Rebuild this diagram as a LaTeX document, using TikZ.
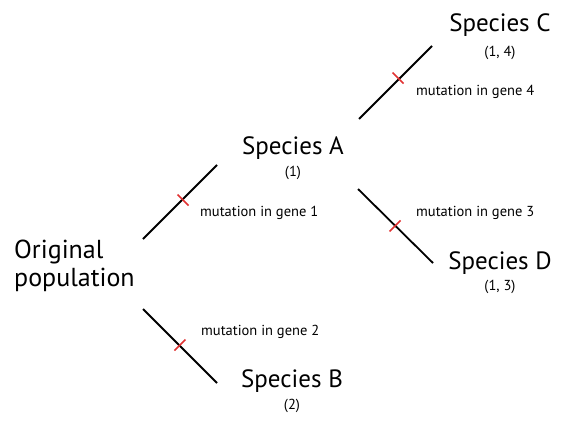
\documentclass[tikz,border=0pt]{standalone}
\usepackage{fontspec}
\setmainfont{PT Sans}
\definecolor{tickred}{RGB}{225,50,50}
\tikzset{
  branch/.style={line width=1.8pt, black},
  mut/.style={line width=1.6pt, tickred},
  species/.style={font=\fontsize{25}{27}\selectfont, inner sep=0pt, anchor=center},
  genes/.style={font=\fontsize{14.5}{16}\selectfont, inner sep=0pt, anchor=center},
  mutlabel/.style={font=\fontsize{14.5}{16}\selectfont, inner sep=0pt, anchor=west},
}
\begin{document}
\begin{tikzpicture}[x=1pt,y=-1pt]
\useasboundingbox (0,0) rectangle (570,423);
% texts
\node[species, anchor=west, align=left, font=\fontsize{26}{28}\selectfont] (orig) at (14,266) {Original\\population};
\node[species] (spA) at (293,148) {Species A};
\node[genes] (gA) at (293,173) {(1)};
\node[species] (spB) at (292,381) {Species B};
\node[genes] (gB) at (292,406) {(2)};
\node[species] (spC) at (500,25) {Species C};
\node[genes] (gC) at (500,53) {(1, 4)};
\node[species] (spD) at (500,263) {Species D};
\node[genes] (gD) at (500,287) {(1, 3)};
\node[mutlabel] (m1) at (200,213) {mutation in gene 1};
\node[mutlabel] (m2) at (201,332) {mutation in gene 2};
\node[mutlabel] (m3) at (416,213) {mutation in gene 3};
\node[mutlabel] (m4) at (416,92) {mutation in gene 4};
% branch endpoints
\coordinate (oA1) at (143,239); \coordinate (oA2) at (217,165);
\coordinate (oB1) at (143,309); \coordinate (oB2) at (217,383);
\coordinate (aC1) at (359,119); \coordinate (aC2) at (432,46);
\coordinate (aD1) at (358,189); \coordinate (aD2) at (433,263);
\draw[branch] (oA1) -- (oA2);
\draw[branch] (oB1) -- (oB2);
\draw[branch] (aC1) -- (aC2);
\draw[branch] (aD1) -- (aD2);
% mutation ticks
\coordinate (t1) at (183,200);
\coordinate (t2) at (180,345);
\coordinate (t4) at (398,78);
\coordinate (t3) at (395,226);
\draw[mut] ([shift={(-5.5,-5.5)}]t1) -- ([shift={(5.5,5.5)}]t1);
\draw[mut] ([shift={(5.5,-5.5)}]t2) -- ([shift={(-5.5,5.5)}]t2);
\draw[mut] ([shift={(-5.5,-5.5)}]t4) -- ([shift={(5.5,5.5)}]t4);
\draw[mut] ([shift={(5.5,-5.5)}]t3) -- ([shift={(-5.5,5.5)}]t3);
\end{tikzpicture}
\end{document}
